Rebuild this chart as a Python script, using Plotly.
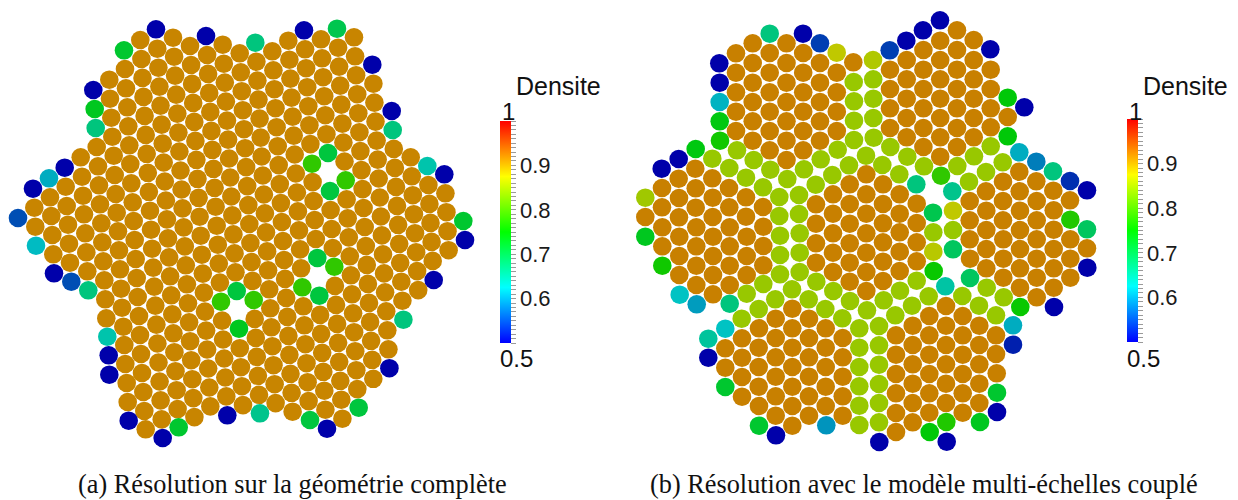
import plotly.graph_objects as go

# ---------- Panel (a) : pins at the bulk density ----------
A_BULK_DENSITY = 0.917
A_BULK_X = [
 34.3,35.3, 50,51.3,52.3,53.3, 65.7,66.7,68,69,70,
 80.7,82,83,84,85.3,86.3,87.3,
 96.7,98,99,100,101.3,102.3,103.3,104.3,105.3,106.3,
 109.3,110,111.3,112.3,113.7,114.7,115.7,116.7,118,119,120,121,122,123.3,124.3,125.3,126.7,127.7,
 125,126,127.3,128.3,129.3,130.3,131.3,132.7,133.7,134.7,135.7,136.7,137.7,139,140,141,142,143.3,144.3,145.7,
 140.3,141.4,142.5,143.5,144.6,145.7,146.7,147.8,148.9,150,151,152.1,153.2,154.2,155.3,156.4,157.4,158.5,159.6,160.6,161.7,
 157.3,158.4,159.4,160.5,161.6,162.7,163.7,164.8,165.9,166.9,168,169.1,170.1,171.2,172.3,173.4,174.4,175.5,176.6,177.6,
 173,174.1,175.1,176.2,177.3,178.4,179.4,180.5,181.6,182.6,183.7,184.8,185.8,186.9,188,189.1,190.1,191.2,192.3,193.3,194.4,
 190,191.1,192.1,193.2,194.3,195.4,196.4,197.5,198.6,199.6,200.7,201.8,202.8,203.9,205,206.1,207.1,208.2,209.3,210.3,
 207.1,208.1,209.2,210.3,211.4,212.4,213.5,214.6,215.6,216.7,217.8,218.8,219.9,222.1,223.1,224.2,225.3,226.3,
 222.7,223.8,224.8,225.9,227,228.1,229.1,230.2,231.3,232.3,233.4,234.5,235.5,239.8,240.9,241.9,243,
 239.7,240.8,241.8,242.9,244,245.1,246.1,247.2,248.3,249.3,250.4,251.5,252.5,254.7,255.8,256.8,257.9,259,
 256.4,257.4,258.5,259.6,260.7,261.7,262.8,263.9,264.9,266,267.1,268.1,269.2,270.3,271.4,272.4,273.5,274.6,275.6,
 272.3,273.4,274.4,275.5,276.6,277.7,278.7,279.8,280.9,281.9,283,284.1,285.1,286.2,287.3,288.4,289.4,290.5,291.6,292.6,
 288.3,289.4,290.4,291.5,292.6,293.7,294.7,295.8,296.9,297.9,299,300.1,301.1,303.3,304.4,305.4,306.5,307.6,308.6,
 305.1,306.1,307.2,308.3,309.4,310.4,312.6,313.6,314.7,315.8,320.1,321.1,322.2,323.3,324.3,325.4,
 321,322.1,323.1,324.2,325.3,326.4,330.6,331.7,332.8,334.9,336,337.1,338.1,339.2,340.3,341.3,342.4,
 338.1,339.1,340.2,341.3,342.4,343.4,344.5,346.6,347.7,348.8,349.8,350.9,352,353.1,354.1,355.2,356.3,357.3,
 354,355.1,356.1,357.2,358.3,359.4,360.4,361.5,362.6,363.6,364.7,365.8,366.8,367.9,369,370.1,371.1,372.2,373.3,
 373.4,374.4,375.5,376.6,377.7,378.7,379.8,380.9,381.9,383,384.1,385.1,386.2,387.3,388.4,
 393.8,394.9,396,397,398.1,399.2,400.2,401.3,402.4,
 410.7,411.8,412.8,413.9,415,416.1,417.1,418.2,
 428.4,429.4,430.5,431.6,432.7, 445.4,446.4,447.5,448.6,
]
A_BULK_Y = [
 207.7,226.7, 197.3,216,235,254.3, 186.7,206,224.7,243.7,262.7,
 157.3,176.7,195.7,214.3,233.3,252.3,271.3,
 147,166.3,185.3,204.3,223.3,242.3,261.3,280.3,299.3,318.3,
 79.7,98.7,117.7,136.7,155.7,175,194,212.7,231.3,250.3,269.3,288.7,307.7,326.7,345,364,383,402,
 69,88.3,107.3,126.3,145.3,164,183.3,202.3,221,240,259,278,297,316,335,354,373,392,411,429.3,
 40,59,77.9,96.9,115.9,134.9,153.8,172.8,191.8,210.7,229.7,248.7,267.6,286.6,305.6,324.6,343.5,362.5,381.5,400.4,419.4,
 48.7,67.7,86.6,105.6,124.6,143.6,162.5,181.5,200.5,219.4,238.4,257.4,276.3,295.3,314.3,333.3,352.2,371.2,390.2,409.1,
 37.7,56.7,75.6,94.6,113.6,132.6,151.5,170.5,189.5,208.4,227.4,246.4,265.3,284.3,303.3,322.3,341.2,360.2,379.2,398.1,417.1,
 46,65,83.9,102.9,121.9,140.9,159.8,178.8,197.8,216.7,235.7,254.7,273.6,292.6,311.6,330.6,349.5,368.5,387.5,406.4,
 55,73.9,92.9,111.9,130.9,149.8,168.8,187.8,206.7,225.7,244.7,263.6,282.6,320.6,339.5,358.5,377.5,396.4,
 44.7,63.7,82.6,101.6,120.6,139.6,158.5,177.5,196.5,215.4,234.4,253.4,272.3,348.2,367.2,386.2,405.1,
 53.3,72.3,91.2,110.2,129.2,148.2,167.1,186.1,205.1,224,243,262,280.9,318.9,337.9,356.8,375.8,394.8,
 61.7,80.6,99.6,118.6,137.6,156.5,175.5,194.5,213.4,232.4,251.4,270.3,289.3,308.3,327.3,346.2,365.2,384.2,403.1,
 51.3,70.3,89.2,108.2,127.2,146.2,165.1,184.1,203.1,222,241,260,278.9,297.9,316.9,335.9,354.8,373.8,392.8,411.7,
 40.7,59.7,78.6,97.6,116.6,135.6,154.5,173.5,192.5,211.4,230.4,249.4,268.3,306.3,325.3,344.2,363.2,382.2,401.1,
 49.3,68.2,87.2,106.2,125.2,144.1,182.1,201,220,239,314.9,333.8,352.8,371.8,390.7,409.7,
 39.3,58.3,77.2,96.2,115.2,134.2,210,229,248,285.9,304.9,323.9,342.8,361.8,380.8,399.7,418.7,
 47.7,66.6,85.6,104.6,123.6,142.5,161.5,199.4,218.4,237.4,256.3,275.3,294.3,313.3,332.2,351.2,370.2,389.1,
 37.3,56.3,75.2,94.2,113.2,132.2,151.1,170.1,189.1,208,227,246,264.9,283.9,302.9,321.9,340.8,359.8,378.8,
 83.7,102.6,121.6,140.6,159.6,178.5,197.5,216.5,235.4,254.4,273.4,292.3,311.3,330.3,349.3,
 148.9,167.9,186.9,205.9,224.8,243.8,262.8,281.7,300.7,
 157.3,176.3,195.2,214.2,233.2,252.2,271.1,290.1,
 185,203.9,222.9,241.9,260.9, 193.3,212.2,231.2,250.2,
]
# Panel (a) : rim and hole pins, each with its own density
A_RIM_X = [156,206,255.3,124,93.3,94.7,95.7,64.7,49,33,18,304,337,372.3,391.7,392.7,427.3,444.3,463.3,465,
           433.7,403.4,389.4,358.7,327,310,260,227.3,178.7,162.7,128.7,109.3,108.7,107.3,88.3,71.3,54,36,
           328,312,345.7,330,317.3,334.3,302.3,319.3,236.7,221,253.7,239]
A_RIM_Y = [29.3,36,42.7,50.3,90,109,128,167.7,178.3,188.7,218,30.3,28.7,64.7,111,130,166,174.3,221,240,
           280,319.7,368.2,407.7,428.7,420,413.3,415.3,427.3,438,420.7,374.7,355.3,336.7,290.3,281.7,273.3,245.7,
           153,163.7,180.3,191,258,266.7,287.3,295.7,291,301.7,300,328.7]
A_RIM_D = [.5,.5,.67,.72,.5,.73,.67,.5,.61,.5,.55,.5,.7,.5,.5,.67,.64,.5,.72,.5,
           .5,.67,.5,.71,.5,.71,.66,.5,.72,.5,.5,.5,.5,.64,.67,.55,.5,.62,
           .71,.78,.78,.71,.71,.78,.78,.71,.71,.78,.78,.73]

# ---------- Panel (b) : pins at the bulk density ----------
B_BULK_DENSITY = 0.92
B_BULK_X = [
 736,736,736,736,736, 752.7,752.7,752.7,752.7,752.7,752.7, 769.7,769.7,769.7,769.7,769.7,769.7,
 786.5,786.5,786.5,786.5,786.5,786.5,786.5, 803.2,803.2,803.2,803.2,803.2,803.2,
 820,820,820,820,820, 836.8,836.8,836.8,836.8, 853.3,
 890,890,890,890, 906.7,906.7,906.7,906.7,906.7, 923.4,923.4,923.4,923.4,923.4,923.4,
 940.2,940.2,940.2,940.2,940.2,940.2,940.2, 957,957,957,957,957,957,957,
 973.7,973.7,973.7,973.7,973.7,973.7, 990.7,990.7,990.7,990.7, 1007.7,
 1019.3,1003,1036.3,1053.3,1070,986,1019.7,969.7,1003,1036.7,986.3,1020,1053.7,969.7,1003,1036.7,
 986.3,1020,1053.7,1070.3,969.7,1003.3,1036.7,986.3,1020,1053.7,1087,970,1003.3,1036.7,1070.3,
 986.3,1020,1053.7,1003.3,1036.7,1070.3,1020,1053.7,1036.7,
 662,662,662.3,662.3, 678.7,679,679,679.3,679.3,679.3, 695.3,695.7,695.7,696.3,696.3,696.3,696.3,
 712.3,712.7,712.7,713,713,713,713, 729,729.3,729.7,729.7,729.7,729.7, 746,746,746.7,746.7,746.7,
 763,763.3,763.3,763.3, 645.3,
 816,816,816,816, 833,833,833,833,833, 849.7,849.7,849.7,849.7,849.7,849.7,
 866.3,866.3,866.3,866.3,866.3,866.3,866.3, 883,883,883,883,883,883,
 899.7,899.7,899.7,899.7,899.7, 916.7,916.7,916.7,916.7,
 792.3,775.7,809,759,792.3,825.7,742,775.7,809,842.7,725.3,758.7,792.3,825.7,742,775.7,809,842.7,
 725.3,758.7,792.3,825.7,742,775.7,809,842.7,758.7,792.3,825.7,742,775.7,809,842.7,759,792.3,825.7,
 775.7,809,842.7,792.3,
 946,929.3,962.7,912.7,946,979.3,896,929.3,962.7,996,912.7,946,979.3,896,929.3,962.7,996,
 912.7,946,979.3,896,929.3,962.7,996.7,912.7,946,979.3,896,929.3,962.7,912.7,946,979.3,
 896,929.3,962.7,912.7,896,
]
B_BULK_Y = [
 53.3,72.7,92.3,111.7,131, 43.3,63,82.7,102,121.3,140.7, 53,72.7,92.3,111.7,131,150.3,
 43.3,63,82.7,102,121.3,140.7,160, 53,72.7,92.3,111.7,131,150.3,
 63,82.7,102,121.3,140.7, 72.7,92.3,111.7,131, 62.3,
 69.7,89,108.3,128, 60,79.3,98.7,118,137.3, 50,69.7,89,108.3,128,147,
 40.7,60,79.3,98.7,118,137.3,156.7, 30.3,50,69.7,89,108.3,128,147,
 40,60,79.3,98.7,118,137.3, 69.7,89,108.3,127.3, 117,
 171.7,181.7,181.3,190.7,200.3,191.3,191.3,201,201,201,210.7,210.7,210.3,220.3,220.3,220.3,
 230,230,229.7,239.3,239.3,239.3,239.3,249,249,249,248.3,258.7,258.7,258.7,258.7,
 268.3,268.3,268.3,277.7,277.7,277.7,287.7,287.7,297.3,
 188,207.3,227.3,246.3, 178.7,198,217.3,236.7,256,275, 168.7,188.3,207.7,227.3,246.3,265.7,285,
 178.3,197.7,217,236.7,256,275,294.3, 188,207.3,227.3,246.3,265.7,285, 197.3,216.7,236.7,256,275,
 207,226.7,246,265.3, 217,
 204.3,223.7,243.3,262.7, 194.3,213.7,233.3,252.7,272, 184.3,204,223.7,243.3,262.7,281.7,
 174.3,194.3,213.7,233.3,252.7,272,291, 184.3,204,223.3,242.3,261.7,281,
 194.3,213.7,232.3,251.7,271, 203.7,223,242.3,261.3,
 308.7,318.7,318.7,328.3,328.3,328.3,338.3,338,338,338,348.3,347.7,347.7,347.7,357.7,357.3,357.3,357.3,
 367.7,367,367,367,377,376.7,376.7,376.7,386.7,386.7,386.7,396.7,396.3,396.3,396.3,406,406,406,
 415.7,415.7,415.7,425.7,
 306,316,316,325.7,325.7,325.7,335.3,335.3,335.3,335.3,345,345,345,354.7,354.7,354.7,354,
 364.3,364.3,364.3,374,374,374,373.3,383.7,383.7,383.7,393.3,393.3,393.3,403,403,403,
 413,412.7,412.7,422.3,432,
]
# Panel (b) : pins of the coupling band
B_BAND_DENSITY = 0.845
B_BAND_X = [
 853.7,854,854,854, 873.2,873.3,873.3,873.7, 890.3, 990.7,974,957.3,924,907.3, 866,882.3,899.3,
 837.7,820.7,804,787.3,770.3,753.7,737,712.3,729.3,746,763,779.3,799,779.3,799,849,832.3,815.7,
 780,780,780,799.7,799.7,799.7,763.3,746.7,792,775.3,758.7,741.7,816.3,833.3,808.7,825.3,850,842.3,867,883.7,
 900,916.7,928.7,912,895.3,962.3,979,996,986.7,1003.7, 933.3,953, 969,986,1002.7,
 859.3,859.3,859.3,859.3,859.3,859.3, 879,879,879,879,879,879,
]
B_BAND_Y = [
 82,101.3,120.7,140, 79.3,98.7,118,137.7, 147, 146.3,156.3,166,166.3,156.7, 155.7,165,174.3,
 149.7,159.3,169.3,179,169.7,160,150.3,158.7,168,177.7,187.3,197,195,216,214,165.3,175,184.7,
 235.7,255,274.3,233.3,252.7,272,284,293.7,289.3,299.3,309,318.7,281.7,291,299.3,309,301,318.3,310.3,300.3,
 290.7,280.7,296.3,305.7,315.3,296,305.7,315.3,287.7,297.3, 232.3,230, 181.7,172,162.3,
 328.3,347.7,367,386.3,405.7,425, 326,345.3,364.7,384,403,422.3,
]
# Panel (b) : rim and remaining pins, each with its own density
B_RIM_X = [769.7,803,820,836.7,873,719.3,719.7,719.7,719.7,720,695.7,678.7,661.7,645.3,645.3,662.3,679.7,696.7,729.7,
           725.3,708.3,708.3,725.3,759,776,826.3,879.3,946.7,929.7,946.3,980,997,997,1013,1013,1020.3,1054,1087.3,1087,
           1070.3,1087,1070,1053,1036.3,1019.3,1007.7,1024.3,1007.7,990.3,940,923,906.3,889.7,
           916.3,952.3,933,941,945.3,970,933.7,953,933.3,953]
B_RIM_Y = [33.7,33.7,43.3,52.7,60,63.3,82.7,102,121.3,140.7,149,159,168.7,197.7,236.7,265.7,294.7,304.3,303.7,
           328.7,338.7,357.7,387,425.7,435.3,425.3,442,441.7,432,422,422,412,392.7,344.7,325.3,307,307,267.7,229.3,
           219.7,190.3,181,171.3,161.7,152.3,136.3,107.3,97.7,49.3,20.3,30.3,40.7,50.3,
           184.3,191.3,212.7,175.7,286.3,278,271,249.3,251.7,210.7]
B_RIM_D = [.67,.5,.54,.87,.86,.5,.5,.615,.74,.76,.74,.5,.5,.85,.73,.76,.625,.6,.67,
           .625,.65,.5,.72,.72,.5,.595,.5,.5,.745,.77,.73,.5,.72,.52,.61,.755,.5,.5,.69,
           .77,.5,.53,.67,.58,.61,.745,.5,.745,.5,.5,.5,.5,.54,
           .67,.66,.70,.78,.645,.69,.755,.69,.865,.87]

# ---------- Colour bar ----------
BAR_MIN, BAR_MAX = 0.5, 1.0
MAJOR_TICKS = [0.6, 0.7, 0.8, 0.9]
MAJOR_LABELS = ["0.6", "0.7", "0.8", "0.9"]
BAR_TITLE = "Densite"
CAPTION_A = "(a) Résolution sur la géométrie complète"
CAPTION_B = "(b) Résolution avec le modèle multi-échelles couplé"

tickvals = [round(0.5 + i * 0.01, 2) for i in range(51)]
ticktext = [MAJOR_LABELS[MAJOR_TICKS.index(v)] if v in MAJOR_TICKS else "" for v in tickvals]

BRIGHT = [[0, "rgb(0,0,255)"], [.25, "rgb(0,255,255)"], [.5, "rgb(0,255,0)"], [.75, "rgb(255,255,0)"], [1, "rgb(255,0,0)"]]
SHADED = [[0, "rgb(0,0,170)"], [.25, "rgb(0,195,195)"], [.5, "rgb(0,200,0)"], [.75, "rgb(200,200,0)"], [1, "rgb(200,0,0)"]]
W, H = 1238, 500
SANS = "Liberation Sans"


def pins(x, y, d, name):
    return go.Scatter(x=x, y=y, mode="markers", name=name, showlegend=False, hoverinfo="skip",
                      marker=dict(size=18.6, color=d, coloraxis="coloraxis", line=dict(width=0)))


def bar(axis):
    return go.Scatter(x=[None], y=[None], mode="markers", showlegend=False,
                      marker=dict(color=[BAR_MIN], coloraxis=axis))


fig = go.Figure([
    pins(A_BULK_X, A_BULK_Y, [A_BULK_DENSITY] * len(A_BULK_X), "a bulk"),
    pins(A_RIM_X, A_RIM_Y, A_RIM_D, "a rim"),
    pins(B_BULK_X, B_BULK_Y, [B_BULK_DENSITY] * len(B_BULK_X), "b bulk"),
    pins(B_BAND_X, B_BAND_Y, [B_BAND_DENSITY] * len(B_BAND_X), "b band"),
    pins(B_RIM_X, B_RIM_Y, B_RIM_D, "b rim"),
    bar("coloraxis2"), bar("coloraxis3"),
])


def colorbar(left, top, bottom):
    return dict(x=left / W, xanchor="left", y=1 - top / H, yanchor="top", len=bottom - top, lenmode="pixels",
                thickness=11, thicknessmode="pixels", xpad=0, ypad=0, outlinewidth=0,
                ticks="outside", ticklen=5, tickwidth=1, tickcolor="#9a9a9a",
                tickmode="array", tickvals=tickvals, ticktext=ticktext,
                tickfont=dict(family=SANS, size=22, color="#1a1a1a"))


fig.update_layout(
    width=W, height=H, autosize=False, margin=dict(l=0, r=0, t=0, b=0),
    paper_bgcolor="white", plot_bgcolor="white", showlegend=False,
    xaxis=dict(range=[0, W], visible=False, fixedrange=True),
    yaxis=dict(range=[H, 0], visible=False, fixedrange=True),
    coloraxis=dict(cmin=BAR_MIN, cmax=BAR_MAX, colorscale=SHADED, showscale=False),
    coloraxis2=dict(cmin=BAR_MIN, cmax=BAR_MAX, colorscale=BRIGHT, colorbar=colorbar(500, 121, 343)),
    coloraxis3=dict(cmin=BAR_MIN, cmax=BAR_MAX, colorscale=BRIGHT, colorbar=colorbar(1127, 119, 342)),
)


def note(x, y, text, size, family=SANS, anchor="left"):
    fig.add_annotation(x=x, y=y, xref="x", yref="y", text=text, showarrow=False, xanchor=anchor, yanchor="middle",
                       font=dict(family=family, size=size, color="#111111"))


for dx in (0, 627):
    note(514 + dx, 86, BAR_TITLE, 25)
    note(500 + dx, 111, "1", 24)
    note(498 + dx, 358, "0.5", 24)
note(76, 484, CAPTION_A, 26.3, "Liberation Serif")
note(648, 484, CAPTION_B, 26.3, "Liberation Serif")

fig.write_html("out.html", config={"displayModeBar": False},
               post_script="document.body.style.margin='0';document.documentElement.style.overflow='hidden';")
